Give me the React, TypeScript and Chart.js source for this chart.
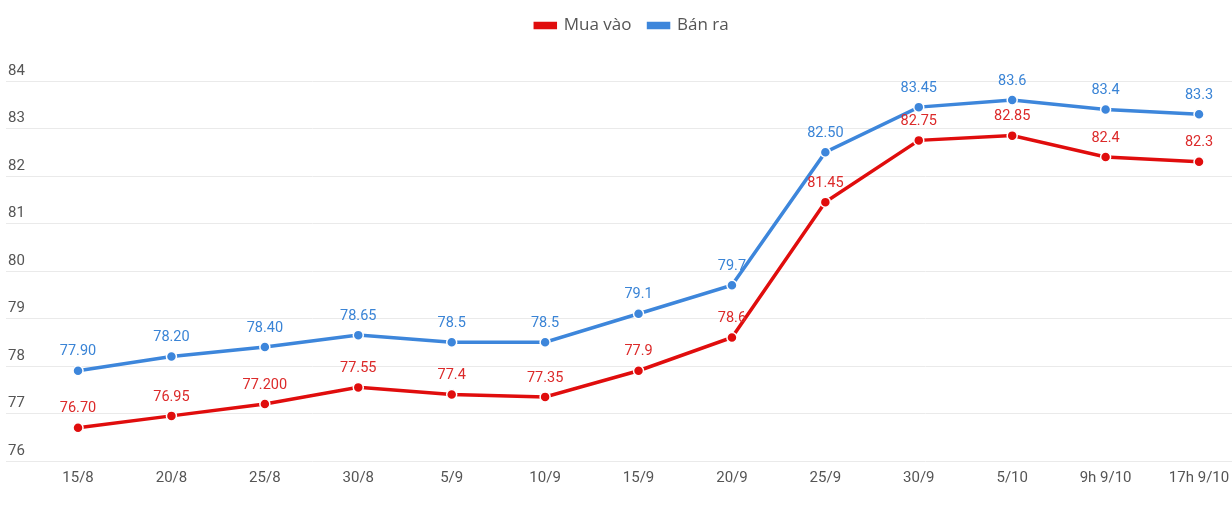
import React, { useEffect, useRef } from "react";
import { Chart, registerables } from "chart.js";

Chart.register(...registerables);

const categories = ["15/8", "20/8", "25/8", "30/8", "5/9", "10/9", "15/9", "20/9", "25/9", "30/9", "5/10", "9h 9/10", "17h 9/10"];
const buyValues = [76.7, 76.95, 77.2, 77.55, 77.4, 77.35, 77.9, 78.6, 81.45, 82.75, 82.85, 82.4, 82.3];
const sellValues = [77.9, 78.2, 78.4, 78.65, 78.5, 78.5, 79.1, 79.7, 82.5, 83.45, 83.6, 83.4, 83.3];
const buyLabels = ["76.70", "76.95", "77.200", "77.55", "77.4", "77.35", "77.9", "78.6", "81.45", "82.75", "82.85", "82.4", "82.3"];
const sellLabels = ["77.90", "78.20", "78.40", "78.65", "78.5", "78.5", "79.1", "79.7", "82.50", "83.45", "83.6", "83.4", "83.3"];
const yTicks = [76, 77, 78, 79, 80, 81, 82, 83, 84];

const RED = "#e00d0d";
const BLUE = "#3d86db";
const RED_TEXT = "#dc2a2a";
const BLUE_TEXT = "#3a84d6";

const valueLabelPlugin = {
  id: "valueLabels",
  afterDatasetsDraw(chart: any) {
    const ctx = chart.ctx;
    ctx.save();
    ctx.font = "14.5px Roboto";
    ctx.textAlign = "center";
    ctx.textBaseline = "middle";
    chart.data.datasets.forEach((ds: any, di: number) => {
      const meta = chart.getDatasetMeta(di);
      const labels: string[] = ds.valueLabels;
      ctx.fillStyle = ds.labelColor;
      meta.data.forEach((pt: any, i: number) => {
        ctx.fillText(labels[i], pt.x, pt.y - 19);
      });
    });
    ctx.restore();
  },
};

const legendSpacer = {
  id: "legendSpacer",
  beforeInit(chart: any) {
    const legend = chart.legend;
    if (!legend) return;
    const origFit = legend.fit;
    legend.fit = function () {
      origFit.call(this);
      this.height += 37;
    };
    const origDraw = legend.draw;
    legend.draw = function () {
      const ctx = this.ctx;
      ctx.save();
      ctx.translate(13, 0);
      origDraw.call(this);
      ctx.restore();
    };
  },
};

export default function App() {
  const ref = useRef<HTMLCanvasElement | null>(null);
  useEffect(() => {
    document.body.style.margin = "0";
    const canvas = ref.current!;
    const chart = new Chart(canvas, {
      type: "line",
      data: {
        datasets: [
          {
            label: "Mua vào",
            data: buyValues.map((v, i) => ({ x: i, y: v })),
            borderColor: RED,
            backgroundColor: RED,
            borderWidth: 3.5,
            pointRadius: 5,
            pointBorderColor: "#ffffff",
            pointBorderWidth: 1.5,
            pointBackgroundColor: RED,
            tension: 0,
            clip: false,
            valueLabels: buyLabels,
            labelColor: RED_TEXT,
          } as any,
          {
            label: "Bán ra",
            data: sellValues.map((v, i) => ({ x: i, y: v })),
            borderColor: BLUE,
            backgroundColor: BLUE,
            borderWidth: 3.5,
            pointRadius: 5,
            pointBorderColor: "#ffffff",
            pointBorderWidth: 1.5,
            pointBackgroundColor: BLUE,
            tension: 0,
            clip: false,
            valueLabels: sellLabels,
            labelColor: BLUE_TEXT,
          } as any,
        ],
      },
      options: {
        animation: false,
        responsive: true,
        maintainAspectRatio: false,
        layout: { autoPadding: false, padding: { left: 6, right: 0, top: 0, bottom: 17 } },
        plugins: {
          legend: {
            position: "top",
            labels: {
              boxWidth: 20,
              boxHeight: 4,
              padding: 17,
              color: "#555555",
              font: { family: "'Open Sans'", size: 17 },
            },
          },
          tooltip: { enabled: false },
        },
        scales: {
          x: {
            type: "linear",
            min: -0.771,
            max: 12.353,
            grid: { display: false, drawTicks: false },
            border: { display: false },
            afterBuildTicks: (axis: any) => {
              axis.ticks = categories.map((_, i) => ({ value: i }));
            },
            afterFit: (axis: any) => {
              axis.paddingLeft = 0;
              axis.paddingRight = 0;
            },
            ticks: {
              autoSkip: false,
              maxRotation: 0,
              padding: 8,
              color: "#555555",
              font: { family: "Roboto", size: 15 },
              callback: (v: any) => categories[Math.round(Number(v))] ?? "",
            },
          },
          y: {
            min: 76,
            max: 84,
            afterBuildTicks: (axis: any) => {
              axis.ticks = yTicks.map((v) => ({ value: v }));
            },
            afterFit: (axis: any) => {
              axis.width = 0;
            },
            grid: { color: "#eaeaea", drawTicks: false, lineWidth: 1 },
            border: { display: false },
            ticks: {
              mirror: true,
              padding: 2,
              labelOffset: -10,
              color: "#555555",
              font: { family: "Roboto", size: 15 },
            },
          },
        },
      },
      plugins: [legendSpacer, valueLabelPlugin],
    });
    return () => chart.destroy();
  }, []);
  return (
    <div style={{ width: 1232, height: 512, position: "relative" }}>
      <canvas ref={ref} />
    </div>
  );
}
